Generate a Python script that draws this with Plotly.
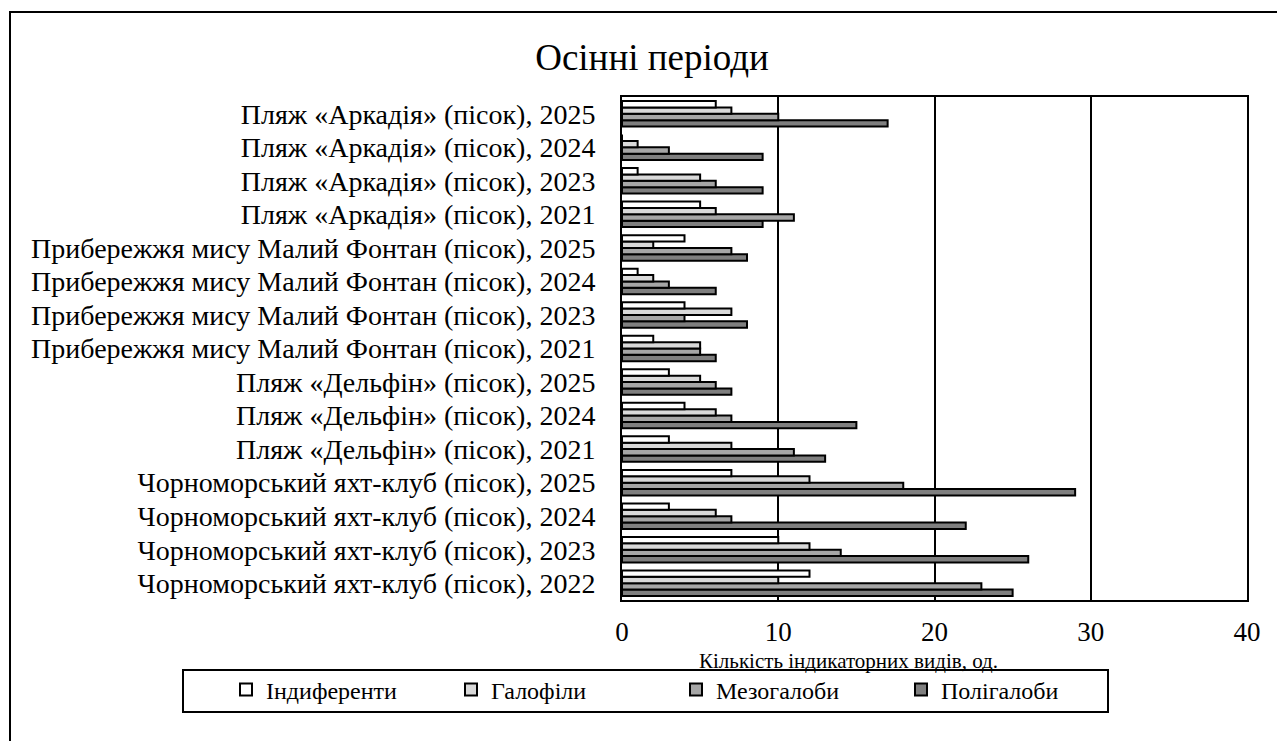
import plotly.graph_objects as go

categories = [
    "Чорноморський яхт-клуб (пісок), 2022",
    "Чорноморський яхт-клуб (пісок), 2023",
    "Чорноморський яхт-клуб (пісок), 2024",
    "Чорноморський яхт-клуб (пісок), 2025",
    "Пляж «Дельфін» (пісок), 2021",
    "Пляж «Дельфін» (пісок), 2024",
    "Пляж «Дельфін» (пісок), 2025",
    "Прибережжя мису Малий Фонтан (пісок), 2021",
    "Прибережжя мису Малий Фонтан (пісок), 2023",
    "Прибережжя мису Малий Фонтан (пісок), 2024",
    "Прибережжя мису Малий Фонтан (пісок), 2025",
    "Пляж «Аркадія» (пісок), 2021",
    "Пляж «Аркадія» (пісок), 2023",
    "Пляж «Аркадія» (пісок), 2024",
    "Пляж «Аркадія» (пісок), 2025",
]

indyferenty = [12, 10, 3, 7, 3, 4, 3, 2, 4, 1, 4, 5, 1, 0, 6]
halofily = [10, 12, 6, 12, 7, 6, 5, 5, 7, 2, 2, 6, 5, 1, 7]
mezohaloby = [23, 14, 7, 18, 11, 7, 6, 5, 4, 3, 7, 11, 6, 3, 10]
polihaloby = [25, 26, 22, 29, 13, 15, 7, 6, 8, 6, 8, 9, 9, 9, 17]

series = [
    ("Індиференти", indyferenty, "#ffffff", 1),
    ("Галофіли", halofily, "#d9d9d9", 2),
    ("Мезогалоби", mezohaloby, "#a6a6a6", 3),
    ("Полігалоби", polihaloby, "#7f7f7f", 4),
]

x_ticks = [0, 10, 20, 30, 40]

OFF = 8  # page body margin: window px = figure px + OFF
W, H = 1285 - 2 * OFF, 749 - 2 * OFF
# plot area in window pixels: left 622, right 1247, top 97, bottom 600
L = 622 - OFF
R = W - (1247 - OFF)
T = 97 - OFF
B = H - (600 - OFF)
PW, PH = W - L - R, H - T - B


def px_x(X):  # window px -> paper x
    return (X - OFF - L) / PW


def px_y(Y):  # window px -> paper y
    return (H - B - (Y - OFF)) / PH


def cx(X):  # window px -> container x
    return (X - OFF) / W


def cy(Y):  # window px -> container y
    return 1 - (Y - OFF) / H


FONT = "Liberation Serif, Times New Roman, serif"

fig = go.Figure()
# add in reverse so that the first series sits at the top of each group
for name, vals, color, rank in reversed(series):
    fig.add_trace(go.Bar(
        name=name, y=categories, x=vals, orientation="h",
        marker=dict(color=color, line=dict(color="black", width=2)),
        legendrank=rank,
    ))

fig.update_layout(
    width=W, height=H,
    margin=dict(l=L, r=R, t=T, b=B),
    paper_bgcolor="white", plot_bgcolor="white",
    barmode="group", bargap=0.24, bargroupgap=0,
    font=dict(family=FONT, color="black", size=21),
    title=dict(text="Осінні періоди", x=cx(652), xanchor="center",
               y=cy(57), yanchor="middle",
               font=dict(family=FONT, size=37, color="black")),
    showlegend=True,
    legend=dict(orientation="h", xref="paper", yref="paper",
                x=px_x(226), xanchor="left",
                y=px_y(690), yanchor="middle",
                bgcolor="rgba(0,0,0,0)", borderwidth=0,
                font=dict(family=FONT, size=24, color="black"),
                entrywidth=180, entrywidthmode="pixels", itemwidth=30,
                traceorder="normal"),
    xaxis=dict(range=[0, 40], tickmode="array", tickvals=x_ticks, ticks="",
               showgrid=True, gridcolor="black", gridwidth=2, zeroline=False,
               showline=True, linecolor="black", linewidth=2, mirror=True,
               tickfont=dict(family=FONT, size=27, color="black"),
               ticklabelstandoff=7),
    yaxis=dict(type="category", tickmode="array", tickvals=categories,
               ticktext=categories, ticks="", showgrid=False, zeroline=False,
               showline=True, linecolor="black", linewidth=2, mirror=True,
               tickfont=dict(family=FONT, size=28, color="black"),
               ticklabelstandoff=19),
    annotations=[dict(text="Кількість індикаторних видів, од.",
                      xref="paper", yref="paper", x=px_x(848), y=px_y(661),
                      xanchor="center", yanchor="middle", showarrow=False,
                      font=dict(family=FONT, size=21, color="black"))],
    shapes=[
        dict(type="rect", xref="paper", yref="paper",
             x0=px_x(10), x1=px_x(1310), y0=px_y(12), y1=px_y(780),
             line=dict(color="black", width=2), fillcolor="rgba(0,0,0,0)",
             layer="below"),
        dict(type="rect", xref="paper", yref="paper",
             x0=px_x(183), x1=px_x(1108), y0=px_y(670), y1=px_y(712),
             line=dict(color="black", width=2), fillcolor="rgba(0,0,0,0)"),
    ],
)

fig.write_html("out.html")
